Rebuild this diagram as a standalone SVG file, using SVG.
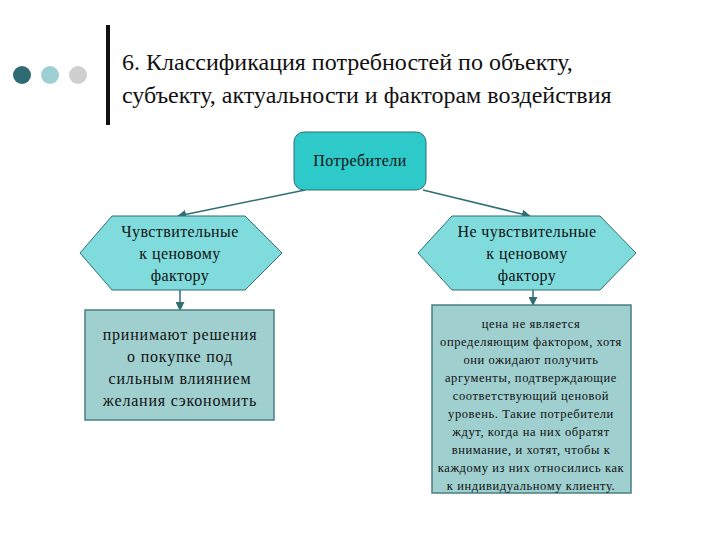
<svg xmlns="http://www.w3.org/2000/svg" width="720" height="540" viewBox="0 0 720 540">
<style>
text{font-family:"Liberation Serif","DejaVu Serif",serif;fill:#111;text-anchor:middle}
.t{font-size:24px;text-anchor:start}
.n{font-size:16px;letter-spacing:0.4px}
.m{font-size:16px;letter-spacing:0.8px}
.s{font-size:12.5px;letter-spacing:0.6px}
.hex{fill:#80dcdc;stroke:#2f6f73;stroke-width:1}
.box{fill:#9fcfcf;stroke:#4a7f83;stroke-width:1.5}
.c{stroke:#2f6f73;stroke-width:1.5;fill:none;marker-end:url(#a)}
</style>
<defs><marker id="a" viewBox="0 0 10 10" refX="9" refY="5" markerWidth="6" markerHeight="6" orient="auto"><path d="M0,0L10,5L0,10z" fill="#2f6f73"/></marker></defs>
<rect width="720" height="540" fill="#fff"/>
<g id="header">
<circle cx="22" cy="75" r="9" fill="#2e6b73"/>
<circle cx="50" cy="75" r="9" fill="#9ecfd3"/>
<circle cx="78" cy="75" r="9" fill="#cfcfcf"/>
<rect x="106" y="25" width="4" height="100" fill="#111"/>
<text class="t" x="122" y="70" font-family="Liberation Serif, serif">6. Классификация потребностей по объекту,</text>
<text class="t" x="122" y="103" font-family="Liberation Serif, serif">субъекту, актуальности и факторам воздействия</text>
</g>
<g id="connectors">
<line class="c" x1="305" y1="190" x2="178" y2="216"/>
<line class="c" x1="423" y1="190" x2="530" y2="216"/>
<line class="c" x1="180" y1="290" x2="180" y2="310"/>
<line class="c" x1="533" y1="290" x2="533" y2="305"/>
</g>
<g id="consumers">
<rect x="294" y="132" width="132" height="58" rx="10" fill="#2ec9c9" stroke="#2f6f73"/>
<text class="n" x="360" y="166">Потребители</text>
</g>
<g id="sensitive">
<polygon class="hex" points="80,253 112,216 245,216 282,253 245,290 112,290"/>
<text class="n" x="180" y="237">Чувствительные</text>
<text class="n" x="180" y="259">к ценовому</text>
<text class="n" x="180" y="281">фактору</text>
</g>
<g id="insensitive">
<polygon class="hex" points="418,253 452,216 600,216 636,253 600,290 452,290"/>
<text class="n" x="527" y="237">Не чувствительные</text>
<text class="n" x="527" y="259">к ценовому</text>
<text class="n" x="527" y="281">фактору</text>
</g>
<g id="left-desc">
<rect class="box" x="85" y="310" width="189" height="110"/>
<text class="m" x="180" y="340">принимают решения</text>
<text class="m" x="180" y="362">о покупке под</text>
<text class="m" x="180" y="384">сильным влиянием</text>
<text class="m" x="180" y="406">желания сэкономить</text>
</g>
<g id="right-desc">
<rect class="box" x="432" y="305" width="199" height="188"/>
<text class="s" x="531" y="328">цена не является</text>
<text class="s" x="531" y="346">определяющим фактором, хотя</text>
<text class="s" x="531" y="364">они ожидают получить</text>
<text class="s" x="531" y="382">аргументы,  подтверждающие</text>
<text class="s" x="531" y="400">соответствующий  ценовой</text>
<text class="s" x="531" y="418">уровень. Такие потребители</text>
<text class="s" x="531" y="436">ждут, когда на них  обратят</text>
<text class="s" x="531" y="454">внимание, и хотят, чтобы к</text>
<text class="s" x="531" y="472">каждому из них относились как</text>
<text class="s" x="531" y="490">к индивидуальному клиенту.</text>
</g>
</svg>
